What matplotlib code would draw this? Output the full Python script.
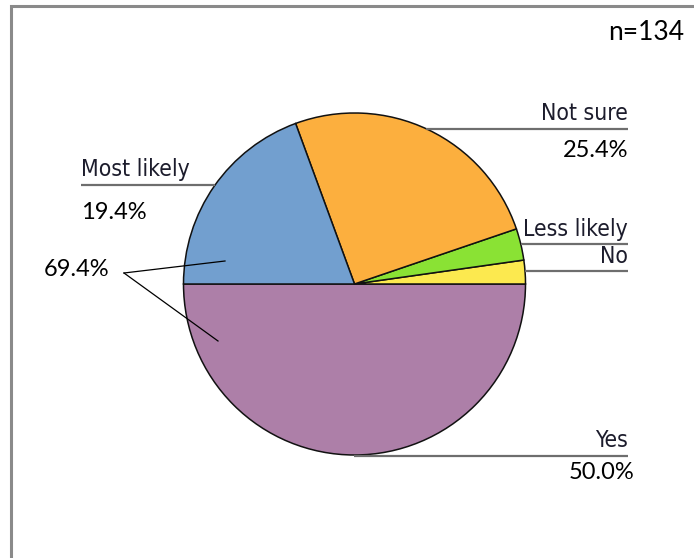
import numpy as np
import matplotlib
matplotlib.use('Agg')
import matplotlib.pyplot as plt
from matplotlib.patches import Rectangle

# survey answers (counts), n = 134
labels = ['Yes', 'No', 'Less likely', 'Not sure', 'Most likely']
counts = [67, 3, 4, 34, 26]
colors = ['#ad7fa8', '#fce94f', '#8ae234', '#fcaf3e', '#729fcf']
n_total = sum(counts)

W, H = 694, 558
cx, cy, r = 354.5, 284, 171

name_font = dict(family='DejaVu Sans', fontstretch='condensed', fontsize=16.5, color='#1c1c2c')
pct_font = dict(family='Lato', fontsize=17, color='black')
rule_kw = dict(color='#6e6e6e', lw=1.6, solid_capstyle='butt')

fig = plt.figure(figsize=(W / 100, H / 100), dpi=100)
ax = fig.add_axes([0, 0, 1, 1])


def Y(y):
    # pixel rows are counted from the top
    return H - y


def pct(i):
    return 100.0 * counts[i] / n_total


ax.pie(counts, colors=colors, startangle=180, counterclock=True,
       center=(cx, Y(cy)), radius=r,
       wedgeprops=dict(edgecolor='#111111', linewidth=1.1))

ax.set_xlim(0, W)
ax.set_ylim(0, H)
ax.set_aspect('equal')
ax.axis('off')

# outer frame
ax.add_patch(Rectangle((11, Y(600)), 720, 594, fill=False, edgecolor='#8a8a8a', lw=2.2))


def edge_x(y, side):
    # x of the pie rim at pixel row y
    dy = y - cy
    return cx + side * np.sqrt(max(r * r - dy * dy, 0.0))


# right side labels: name above a rule, right aligned
right_x = 628
right_labels = [
    ('Not sure', 120, 128.5, 157, pct(3)),
    ('Less likely', 236, 243.5, None, None),
    ('No', 263, 271, None, None),
    ('Yes', 447, 455.5, 479, pct(0)),
]
for name, base, rule_y, pct_base, value in right_labels:
    ax.text(right_x, Y(base), name, ha='right', va='baseline', **name_font)
    ax.plot([edge_x(rule_y, 1), right_x], [Y(rule_y), Y(rule_y)], **rule_kw)
    if value is not None:
        px = right_x + (6 if name == 'Yes' else 0)
        ax.text(px, Y(pct_base), f'{value:.1f}%', ha='right', va='baseline', **pct_font)

# left label for "Most likely"
ax.text(81, Y(176), 'Most likely', ha='left', va='baseline', **name_font)
ax.plot([81, edge_x(185, -1)], [Y(185), Y(185)], **rule_kw)
ax.text(81, Y(219), f'{pct(4):.1f}%', ha='left', va='baseline', **pct_font)

# combined share of "Yes" and "Most likely"
ax.text(44, Y(276), f'{pct(0) + pct(4):.1f}%', ha='left', va='baseline', **pct_font)
ax.plot([124, 225], [Y(273), Y(261)], color='black', lw=0.9)
ax.plot([124, 218], [Y(273), Y(341)], color='black', lw=0.9)

ax.text(684, Y(40), f'n={n_total}', ha='right', va='baseline', family='Lato', fontsize=19, color='black')

fig.savefig('out.png', dpi=100)
